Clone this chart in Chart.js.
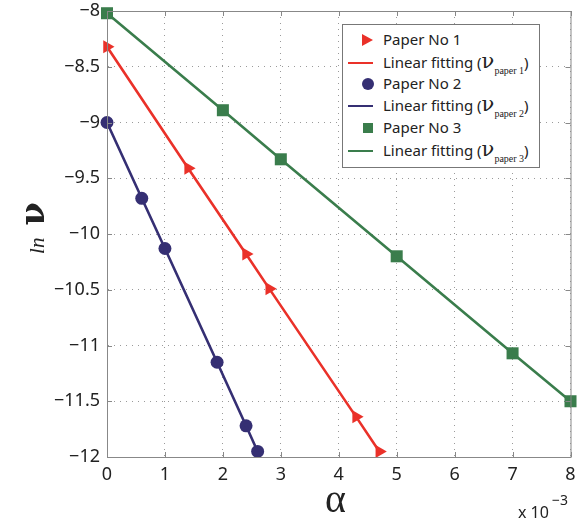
<!DOCTYPE html>
<html>
<head>
<meta charset="utf-8">
<script src="https://cdn.jsdelivr.net/npm/chart.js@4/dist/chart.umd.min.js"></script>
<style>
  html, body { margin: 0; padding: 0; background: #fff; }
  #wrap { position: relative; width: 579px; height: 522px; }
  #wrap canvas { position: absolute; left: 0; top: 0; }
  .ovl { position: absolute; color: #222; white-space: nowrap; }
  #legend { position: absolute; left: 342px; top: 24px; width: 198px; height: 144px;
            border: 1px solid #777; background: #fff; box-sizing: border-box; }
  .row { position: absolute; left: 0; height: 22px; width: 100%; }
  .row .txt { position: absolute; left: 40px; top: 0; height: 22px; line-height: 22px;
              font: 15px "Noto Sans", sans-serif; color: #222; white-space: nowrap; }
  .nu { font: 21px "DejaVu Serif", serif; line-height: 0; }
  .sub { font: 10px "Liberation Serif", serif; line-height: 0; position: relative; top: 6px; }
</style>
</head>
<body>
<div id="wrap">
  <canvas id="c" width="579" height="522"></canvas>
  <div id="legend"></div>
  <div class="ovl" id="ytitle" style="left:2px; top:190px; width:60px; height:80px;">
    <div style="position:absolute; left:-10px; top:18px; transform:rotate(-90deg); transform-origin:center; width:80px; text-align:center;">
      <span style="font: italic 21px 'Liberation Serif', serif;">ln</span><span style="font: bold 34px 'DejaVu Serif', serif;"> ν</span>
    </div>
  </div>
  <div class="ovl" style="left:325px; top:475px; font: 40px 'Liberation Serif', serif;">α</div>
  <div class="ovl" style="left:518px; top:501px; font: 16px 'Noto Sans', sans-serif;">x 10<span style="position:relative; top:-13px; font-size:14px; margin-left:3px;">−3</span></div>
</div>
<script>
// Paper No 1 (red triangles)
const alpha1 = [0, 1.4, 2.4, 2.8, 4.3, 4.7];
const lnv1   = [-8.32, -9.41, -10.18, -10.49, -11.64, -11.95];
// Paper No 2 (navy circles)
const alpha2 = [0, 0.6, 1.0, 1.9, 2.4, 2.6];
const lnv2   = [-9.0, -9.68, -10.13, -11.15, -11.72, -11.95];
// Paper No 3 (green squares)
const alpha3 = [0, 2, 3, 5, 7, 8];
const lnv3   = [-8.02, -8.89, -9.33, -10.2, -11.07, -11.5];

const seriesNames = ['Paper No 1', 'Paper No 2', 'Paper No 3'];
const fitSubs = ['paper 1', 'paper 2', 'paper 3'];
const xTicks = [0, 1, 2, 3, 4, 5, 6, 7, 8];
const yTicks = [-12, -11.5, -11, -10.5, -10, -9.5, -9, -8.5, -8];

const RED = '#ea3129', NAVY = '#352f73', GREEN = '#3a7d4c';

const pts = (xs, ys) => xs.map((x, i) => ({ x: x, y: ys[i] }));

const fitLine = (xs, ys, color) => ({
  data: pts(xs, ys), borderColor: color, borderWidth: 2.6, pointRadius: 0,
  showLine: true, fill: false, tension: 0
});
const markers = (xs, ys, color, style, r, rot) => ({
  data: pts(xs, ys), backgroundColor: color, borderColor: color, borderWidth: 0,
  pointStyle: style, pointRadius: r, pointRotation: rot || 0, showLine: false
});

// inward tick marks on all four sides of the box
const innerTicks = {
  id: 'innerTicks',
  afterDraw(chart) {
    const { ctx, chartArea: a, scales: { x, y } } = chart;
    ctx.save();
    ctx.strokeStyle = '#888';
    ctx.lineWidth = 1;
    ctx.setLineDash([]);
    ctx.beginPath();
    xTicks.forEach(v => {
      const px = Math.round(x.getPixelForValue(v)) + 0.5;
      ctx.moveTo(px, a.bottom); ctx.lineTo(px, a.bottom - 5);
      ctx.moveTo(px, a.top); ctx.lineTo(px, a.top + 5);
    });
    yTicks.forEach(v => {
      const py = Math.round(y.getPixelForValue(v)) + 0.5;
      ctx.moveTo(a.left, py); ctx.lineTo(a.left + 5, py);
      ctx.moveTo(a.right, py); ctx.lineTo(a.right - 5, py);
    });
    ctx.stroke();
    ctx.strokeRect(a.left + 0.5, a.top + 0.5, a.right - a.left, a.bottom - a.top);
    ctx.restore();
  }
};

const minus = v => String(v).replace('-', '\u2212');

new Chart(document.getElementById('c'), {
  type: 'scatter',
  data: {
    datasets: [
      fitLine(alpha1, lnv1, RED),
      fitLine(alpha2, lnv2, NAVY),
      fitLine(alpha3, lnv3, GREEN),
      markers(alpha1, lnv1, RED, 'triangle', 7.5, 90),
      markers(alpha2, lnv2, NAVY, 'circle', 6.5),
      markers(alpha3, lnv3, GREEN, 'rect', 8.5)
    ]
  },
  options: {
    responsive: false,
    animation: false,
    clip: false,
    layout: { padding: { top: 11, right: 4, left: 0, bottom: 0 } },
    plugins: { legend: { display: false }, tooltip: { enabled: false } },
    scales: {
      x: {
        type: 'linear', min: 0, max: 8,
        afterBuildTicks: s => { s.ticks = xTicks.map(v => ({ value: v })); },
        afterFit: s => { s.height = 65; s.paddingLeft = 0; s.paddingRight = 0; },
        grid: { color: '#9a9a9a', lineWidth: 1, drawTicks: false },
        border: { display: true, color: '#888', dash: [1, 5] },
        ticks: { font: { family: 'Noto Sans', size: 18 }, color: '#222', padding: 7, callback: minus }
      },
      y: {
        type: 'linear', min: -12, max: -8,
        afterBuildTicks: s => { s.ticks = yTicks.map(v => ({ value: v })); },
        afterFit: s => { s.width = 107; s.paddingTop = 0; s.paddingBottom = 0; },
        grid: { color: '#9a9a9a', lineWidth: 1, drawTicks: false },
        border: { display: true, color: '#888', dash: [1, 5] },
        ticks: { font: { family: 'Noto Sans', size: 18 }, color: '#222', padding: 7, callback: minus }
      }
    }
  },
  plugins: [innerTicks]
});

// legend built from the series names and colours
const legend = document.getElementById('legend');
const colors = [RED, NAVY, GREEN];
const shapes = [
  c => `<div style="position:absolute;left:19px;top:5px;width:0;height:0;border-top:6px solid transparent;border-bottom:6px solid transparent;border-left:11px solid ${c};"></div>`,
  c => `<div style="position:absolute;left:19px;top:5px;width:12px;height:12px;border-radius:50%;background:${c};"></div>`,
  c => `<div style="position:absolute;left:20px;top:6px;width:10px;height:10px;background:${c};"></div>`
];
const rowTops = [4, 27, 48, 70, 92, 115];
seriesNames.forEach((name, i) => {
  const r1 = document.createElement('div');
  r1.className = 'row'; r1.style.top = rowTops[2 * i] + 'px';
  r1.innerHTML = shapes[i](colors[i]) + `<span class="txt">${name}</span>`;
  legend.appendChild(r1);
  const r2 = document.createElement('div');
  r2.className = 'row'; r2.style.top = rowTops[2 * i + 1] + 'px';
  r2.innerHTML = `<div style="position:absolute;left:5px;top:10px;width:25px;height:2px;background:${colors[i]};"></div>` +
    `<span class="txt">Linear fitting (<span class="nu">ν</span><span class="sub">${fitSubs[i]}</span>)</span>`;
  legend.appendChild(r2);
});
</script>
</body>
</html>
